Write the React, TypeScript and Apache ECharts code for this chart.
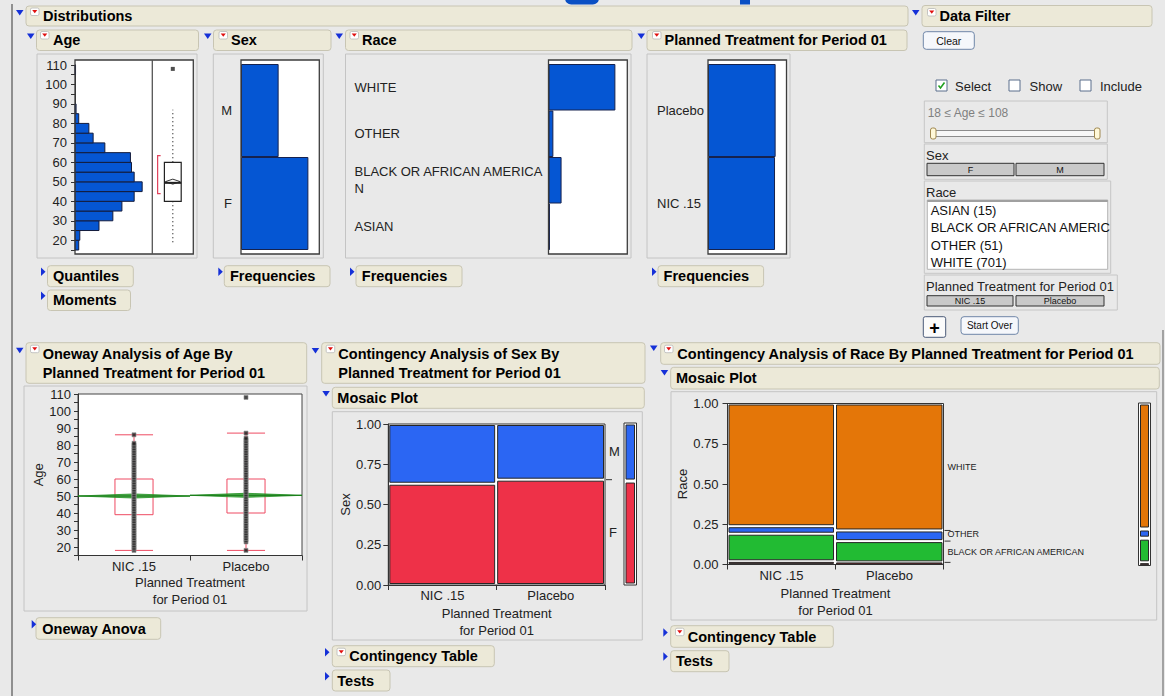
import React, { useEffect, useRef } from "react";
import * as echarts from "echarts";

// ---------------- DATA ----------------
const ageBinStart = [15, 20, 25, 30, 35, 40, 45, 50, 55, 60, 65, 70, 75, 80, 85, 105];
const ageBinCount = [7, 9, 45, 71, 88, 111, 126, 111, 106, 104, 56, 34, 26, 7, 2, 1];
const ageBinWidth = 5;
const ageBoxStats = [18, 40, 50, 60, 87]; // lower whisker, q1, median, q3, upper whisker
const ageMean = 50.1;
const ageOutliers = [108];
const ageShortestHalf = [44, 63.5];
const ageTicks = [20, 30, 40, 50, 60, 70, 80, 90, 100, 110];

const sexLevels = ["F", "M"];
const sexCounts = [580, 324];
const raceLevels = ["ASIAN", "BLACK OR AFRICAN AMERICAN", "OTHER", "WHITE"];
const raceCounts = [15, 137, 51, 701];
const trtLevels = ["NIC .15", "Placebo"];
const trtCounts = [450, 454];

const nicAges = [18, 19, 20, 21, 22, 23, 24, 25, 26, 27, 28, 29, 30, 31, 32, 33, 34, 35, 36, 37, 38, 39, 40, 41, 42, 43, 44, 45, 46, 47, 48, 49, 50, 51, 52, 53, 54, 55, 56, 57, 58, 59, 60, 61, 62, 63, 64, 65, 66, 67, 68, 69, 70, 71, 72, 73, 74, 75, 76, 77, 78, 79, 80, 81, 86];
const placeboAges = [18, 23, 24, 25, 26, 27, 28, 29, 30, 31, 32, 33, 34, 35, 36, 37, 38, 39, 40, 41, 42, 43, 44, 45, 46, 47, 48, 49, 50, 51, 52, 53, 54, 55, 56, 57, 58, 59, 60, 61, 62, 63, 64, 65, 66, 67, 68, 69, 70, 71, 72, 73, 74, 75, 76, 77, 78, 79, 80, 81, 82, 83, 84, 87, 108];
const trtBoxLow = [18, 18];
const trtBoxQ1 = [39, 40];
const trtBoxQ3 = [60, 60];
const trtBoxHigh = [86, 87];
const trtMean = [50.0, 50.4];
const trtMeanLo = [48.8, 49.2];
const trtMeanHi = [51.2, 51.6];

const sexByTrtF = [283, 297];
const sexByTrtM = [167, 157];
const raceByTrtAsian = [9, 6];
const raceByTrtBlack = [77, 60];
const raceByTrtOther = [21, 30];
const raceByTrtWhite = [343, 358];

const sexColors = ["#ee3148", "#2b66f3"];
const raceColors = ["#a8262a", "#22bb33", "#2b66f3", "#e47608"];

// ---------------- HELPERS ----------------
const FF = '"Liberation Sans", Arial, sans-serif';
const BAR = "#0556d3";

function mosaicCells(byLevel: number[][]) {
  const nCol = byLevel[0].length;
  const cells: number[][] = [];
  let x0 = 0;
  for (let c = 0; c < nCol; c++) {
    const tot = byLevel.reduce((s, l) => s + l[c], 0);
    let y0 = 0;
    byLevel.forEach((l, li) => {
      const y1 = y0 + l[c] / tot;
      cells.push([x0, x0 + tot, y0, y1, li]);
      y0 = y1;
    });
    x0 += tot;
  }
  return cells;
}
function marginalCells(counts: number[]) {
  const tot = counts.reduce((a, b) => a + b, 0);
  let y0 = 0;
  return counts.map((c, i) => {
    const y1 = y0 + c / tot;
    const r = [0, 1, y0, y1, i];
    y0 = y1;
    return r;
  });
}
function grandTotal(byLevel: number[][]) {
  return byLevel.reduce((s, l) => s + l.reduce((a, b) => a + b, 0), 0);
}
function mosaicLabels(byLevel: number[][], minShare: number, minGap: number) {
  const last = byLevel[0].length - 1;
  const tot = byLevel.reduce((s, l) => s + l[last], 0);
  const grand = grandTotal(byLevel);
  let y0 = 0;
  const items: number[][] = [];
  byLevel.forEach((l, li) => {
    const sh = l[last] / tot;
    if (sh >= minShare) items.push([grand, y0 + sh / 2, li]);
    y0 += sh;
  });
  for (let i = 1; i < items.length; i++) {
    if (items[i][1] < items[i - 1][1] + minGap) items[i][1] = items[i - 1][1] + minGap;
  }
  return items;
}
function mosaicBounds(byLevel: number[][]) {
  const last = byLevel[0].length - 1;
  const tot = byLevel.reduce((s, l) => s + l[last], 0);
  const grand = grandTotal(byLevel);
  let y0 = 0;
  const out: number[][] = [];
  byLevel.slice(0, -1).forEach((l) => {
    y0 += l[last] / tot;
    out.push([grand, y0]);
  });
  return out;
}

const cellRender = (colors: string[], inset: number) => (params: any, api: any) => {
  const p0 = api.coord([api.value(0), api.value(2)]);
  const p1 = api.coord([api.value(1), api.value(3)]);
  const w = p1[0] - p0[0] - 2 * inset;
  let h = p0[1] - p1[1] - 2 * inset;
  const yc = (p0[1] + p1[1]) / 2;
  if (h < 1) h = 1;
  return {
    type: "rect",
    shape: { x: p0[0] + inset, y: yc - h / 2, width: w, height: h },
    style: { fill: colors[api.value(4)], stroke: "#262626", lineWidth: 1 },
  };
};
const labelRender = (levels: string[], font: string) => (params: any, api: any) => {
  const p = api.coord([api.value(0), api.value(1)]);
  return {
    type: "text",
    x: p[0] + 4,
    y: p[1],
    style: { text: levels[api.value(2)], font, fill: "#222", textAlign: "left", textVerticalAlign: "middle" },
  };
};
const tickRender = (params: any, api: any) => {
  const p = api.coord([api.value(0), api.value(1)]);
  return { type: "line", shape: { x1: p[0] + 1, y1: p[1], x2: p[0] + 7, y2: p[1] }, style: { stroke: "#333", lineWidth: 1 } };
};

function buildOption() {
  const els: any[] = [];
  const rect = (x0: number, y0: number, x1: number, y1: number, style: any, z = 1, r = 0) =>
    els.push({ type: "rect", z, shape: { x: x0, y: y0, width: x1 - x0, height: y1 - y0, r }, style });
  const line = (x1: number, y1: number, x2: number, y2: number, style: any, z = 6) =>
    els.push({ type: "line", z, shape: { x1, y1, x2, y2 }, style });
  const text = (x: number, y: number, t: string, font: string, fill = "#111", align = "left", z = 6) =>
    els.push({ type: "text", z, x, y, style: { text: t, font, fill, textAlign: align, textVerticalAlign: "middle" } });
  const poly = (points: number[][], style: any, z = 6) => els.push({ type: "polygon", z, shape: { points }, style });

  const toggleDown = (x: number, y: number) => poly([[x, y], [x + 7.5, y], [x + 3.75, y + 5.5]], { fill: "#1530d8" });
  const toggleRight = (x: number, y: number) => poly([[x, y], [x + 4.5, y + 4.2], [x, y + 8.4]], { fill: "#1530d8" });
  const redIcon = (x: number, y: number) => {
    rect(x - 0.5, y - 0.5, x + 8, y + 7, { fill: "#ffffff", stroke: "#b8b8b8", lineWidth: 0.8 }, 5, 1.5);
    poly([[x + 1.2, y + 1.6], [x + 6.3, y + 1.6], [x + 3.75, y + 4.8]], { fill: "#e01010" }, 7);
  };
  const HF = `bold 14.5px ${FF}`;
  const header = (x0: number, y0: number, x1: number, y1: number, lines: string[], tx: number) => {
    rect(x0, y0, x1, y1, { fill: "#ece9d8", stroke: "#c8c5b3", lineWidth: 1 }, 1, 3);
    if (lines.length === 1) text(tx, (y0 + y1) / 2, lines[0], HF, "#000");
    else lines.forEach((l, i) => text(tx, y0 + 10.8 + i * 19.5, l, HF, "#000"));
  };
  const frame = (x0: number, y0: number, x1: number, y1: number) =>
    rect(x0, y0, x1, y1, { fill: "none", stroke: "#c4c4c4", lineWidth: 1 }, 0);

  // page decorations
  rect(565, -8, 599, 4.5, { fill: "#0a4fc4" }, 1, 8);
  rect(740, -2, 750, 4.5, { fill: "#0a4fc4" }, 1, 0);
  line(12, 4, 12, 696, { stroke: "#8f8f8f", lineWidth: 2 }, 1);
  line(1163, 330, 1163, 696, { stroke: "#8a8a8a", lineWidth: 1.5 }, 1);

  // top headers
  header(26, 6, 908, 26, ["Distributions"], 43); toggleDown(16, 10); redIcon(31, 8.5);
  header(36.5, 30, 198.5, 50.5, ["Age"], 53); toggleDown(27, 33.5); redIcon(41, 32);
  header(213.5, 30, 331, 50.5, ["Sex"], 231); toggleDown(204, 33.5); redIcon(219.5, 32);
  header(345.5, 30, 632, 50.5, ["Race"], 362); toggleDown(335.5, 33.5); redIcon(350.5, 32);
  header(647, 30, 907, 50.5, ["Planned Treatment for Period 01"], 664.5); toggleDown(637.5, 33.5); redIcon(653, 32);
  header(922, 5.5, 1152, 26.5, ["Data Filter"], 939.5); toggleDown(912, 10); redIcon(928, 9);

  // sub headers
  header(47.5, 265.7, 133.3, 286.7, ["Quantiles"], 53); toggleRight(41, 267.5);
  header(47.5, 290, 130.5, 310.5, ["Moments"], 53); toggleRight(41, 291.5);
  header(224.3, 265.7, 330, 286.7, ["Frequencies"], 230); toggleRight(218.3, 267.5);
  header(356, 265.7, 462, 286.7, ["Frequencies"], 361.8); toggleRight(350, 267.5);
  header(658, 265.7, 763.6, 286.7, ["Frequencies"], 663.6); toggleRight(652, 267.5);

  // bottom headers
  header(26, 342.7, 306.7, 383.3, ["Oneway Analysis of Age By", "Planned Treatment for Period 01"], 42.7); toggleDown(16, 347.7); redIcon(31, 345.7);
  header(36, 617.7, 160.7, 639.3, ["Oneway Anova"], 42.3); toggleRight(31.7, 620);
  header(321.7, 342.7, 645, 383.3, ["Contingency Analysis of Sex By", "Planned Treatment for Period 01"], 338.3); toggleDown(311.7, 348); redIcon(326.7, 345.7);
  header(332.3, 387.3, 644.3, 408.3, ["Mosaic Plot"], 337.3); toggleDown(322.3, 391);
  header(332.3, 645.7, 494.3, 666.7, ["Contingency Table"], 349.3); toggleRight(325, 648); redIcon(337.5, 648.7);
  header(332.3, 670, 390, 691, ["Tests"], 337.3); toggleRight(325, 672);
  header(660.7, 342.7, 1160, 364.3, ["Contingency Analysis of Race By Planned Treatment for Period 01"], 677.3); toggleDown(650, 345.5); redIcon(665, 345.7);
  header(670.7, 367.3, 1159.3, 389, ["Mosaic Plot"], 676); toggleDown(660.7, 370);
  header(670.7, 625.7, 833.3, 647.3, ["Contingency Table"], 687.7); toggleRight(663.3, 628.3); redIcon(676, 628.7);
  header(670.7, 650.7, 729, 671.7, ["Tests"], 676); toggleRight(663.3, 652.3);

  // panel frames
  frame(37, 54, 197, 258);
  frame(213.3, 54, 323.3, 258);
  frame(345.5, 54, 631, 258);
  frame(647, 54, 790, 258);
  frame(24, 386, 307, 611);
  frame(332.3, 411.7, 642.3, 640);
  frame(671, 391.7, 1156.7, 620);

  // distribution plot areas (white bg + frame on top)
  const plotBox = (x0: number, y0: number, x1: number, y1: number) => {
    rect(x0, y0, x1, y1, { fill: "#ffffff" }, 0);
    rect(x0, y0, x1, y1, { fill: "none", stroke: "#3c3c3c", lineWidth: 1.3 }, 10);
  };
  plotBox(75, 60, 193.3, 254);
  line(152.3, 60, 152.3, 254, { stroke: "#555", lineWidth: 1.3 }, 10);
  plotBox(241, 60, 319.3, 254);
  plotBox(548.5, 60, 627.3, 254);
  plotBox(708, 60, 786.5, 254);

  // ---- Data filter ----
  const F13 = `13px ${FF}`;
  rect(923.3, 31.7, 974.3, 49.3, { fill: "#f5f7fb", stroke: "#6f86a8", lineWidth: 1 }, 1, 3);
  text(948.8, 40.7, "Clear", `10.5px ${FF}`, "#111", "center");
  const cb = (x: number, y: number, checked: boolean) => {
    rect(x, y, x + 11, y + 11, { fill: "#ffffff", stroke: "#5a6e8c", lineWidth: 1 }, 2);
    if (checked) els.push({ type: "polyline", z: 6, shape: { points: [[x + 2.5, y + 5.5], [x + 4.5, y + 8], [x + 8.5, y + 2.5]] }, style: { stroke: "#21a121", lineWidth: 1.6, fill: "none" } });
  };
  cb(936, 80, true); text(955, 86.3, "Select", F13, "#222");
  cb(1009, 80, false); text(1029.5, 86.3, "Show", F13, "#222");
  cb(1080, 80, false); text(1100, 86.3, "Include", F13, "#222");

  const box = (x0: number, y0: number, x1: number, y1: number) => rect(x0, y0, x1, y1, { fill: "none", stroke: "#c6c6c6", lineWidth: 1 }, 1);
  box(924.3, 101, 1107.3, 142.7);
  text(927.7, 112.5, `${ageBinStart[0] + 3} ≤ Age ≤ ${ageOutliers[0]}`, `12px ${FF}`, "#808080");
  rect(932, 130.5, 1098, 136.5, { fill: "#f7f7f7", stroke: "#8c8c8c", lineWidth: 1 }, 2);
  rect(930.5, 128, 936, 139, { fill: "#fff8d8", stroke: "#a08850", lineWidth: 1 }, 3, 2);
  rect(1094.5, 128, 1100, 139, { fill: "#fff8d8", stroke: "#a08850", lineWidth: 1 }, 3, 2);

  const btn = (x0: number, y0: number, x1: number, y1: number, t: string) => {
    rect(x0, y0, x1, y1, { fill: "#c9c9c9", stroke: "#333", lineWidth: 1 }, 2);
    text((x0 + x1) / 2, (y0 + y1) / 2 + 0.5, t, `9px ${FF}`, "#111", "center");
  };
  box(924.3, 144, 1107.3, 179.3);
  text(926, 155.7, "Sex", F13, "#222");
  btn(927, 163.3, 1014, 175.7, sexLevels[0]);
  btn(1016, 163.3, 1104, 175.7, sexLevels[1]);

  box(924.3, 181, 1110.7, 273.3);
  text(926, 192.3, "Race", F13, "#222");
  rect(927.3, 200, 1107.7, 269.3, { fill: "#ffffff", stroke: "#b4b4b4", lineWidth: 1 }, 2);
  line(927.3, 201, 1107.7, 201, { stroke: "#a0a0a0", lineWidth: 2 }, 3);
  raceLevels.forEach((lv, i) => {
    const s = `${lv} (${raceCounts[i]})`;
    text(930.7, 210.7 + i * 17.2, s.length > 24 ? s.slice(0, 23) : s, F13, "#111");
  });

  box(924.3, 275, 1117.3, 310);
  text(926, 286, "Planned Treatment for Period 01", F13, "#222");
  btn(927, 295.7, 1013, 306, trtLevels[0]);
  btn(1016, 295.7, 1104, 306, trtLevels[1]);

  rect(923.3, 316.7, 945.7, 337.3, { fill: "#fbfbfb", stroke: "#4a5a78", lineWidth: 1 }, 1, 2);
  text(934.5, 327.5, "+", `bold 18px ${FF}`, "#000", "center");
  rect(961, 316.7, 1018.3, 334.3, { fill: "#f5f7fb", stroke: "#6f86a8", lineWidth: 1 }, 1, 3);
  text(989.7, 325.8, "Start Over", `10px ${FF}`, "#111", "center");

  // ---------------- axes ----------------
  const lab = { color: "#222", fontFamily: FF, fontSize: 13 };
  const hiddenX = (gridIndex: number, max: number, min = 0) => ({ type: "value", gridIndex, min, max, show: false });
  const ageY = (gridIndex: number, margin: number, extra: any = {}) => ({
    type: "value", gridIndex, min: 15, max: 110, interval: 5,
    axisLine: { show: true, lineStyle: { color: "#333" } },
    axisTick: { show: true, length: 4, lineStyle: { color: "#333" } },
    splitLine: { show: false },
    axisLabel: { ...lab, margin, formatter: (v: number) => (ageTicks.indexOf(v) >= 0 ? String(v) : "") },
    ...extra,
  });
  const catY = (gridIndex: number, data: string[], align: string, margin: number) => ({
    type: "category", gridIndex, data,
    axisLine: { show: false }, axisTick: { show: false },
    axisLabel: {
      ...lab, align, margin, lineHeight: 17,
      formatter: (v: string) => (v.length > 24 ? v.slice(0, 24) + "\n" + v.slice(24) : v),
    },
  });
  const fracY = (gridIndex: number, name: string, margin: number, nameGap: number) => ({
    type: "value", gridIndex, min: 0, max: 1, interval: 0.25,
    name, nameLocation: "middle", nameGap, nameRotate: 90,
    nameTextStyle: { ...lab },
    axisLine: { show: true, lineStyle: { color: "#333" } },
    axisTick: { show: true, length: 5, lineStyle: { color: "#333" } },
    splitLine: { show: false },
    axisLabel: { ...lab, margin, formatter: (v: number) => v.toFixed(2) },
  });
  const catX = (gridIndex: number, margin: number, nameGap: number) => ({
    type: "category", gridIndex, data: trtLevels, position: "bottom",
    name: "Planned Treatment\nfor Period 01", nameLocation: "middle", nameGap,
    nameTextStyle: { ...lab, lineHeight: 17 },
    axisLine: { show: true, lineStyle: { color: "#333" } },
    axisTick: { show: true, length: 5, alignWithLabel: false, lineStyle: { color: "#333" } },
    axisLabel: { ...lab, margin },
    splitLine: { show: false },
  });

  const sexByLevel = [sexByTrtF, sexByTrtM];
  const raceByLevel = [raceByTrtAsian, raceByTrtBlack, raceByTrtOther, raceByTrtWhite];
  const sexGrand = grandTotal(sexByLevel);
  const raceGrand = grandTotal(raceByLevel);

  const g = (left: number, top: number, width: number, height: number, extra: any = {}) => ({
    left, top, width, height, containLabel: false, outerBoundsMode: "none", show: false, ...extra,
  });
  const grids = [
    g(75, 65, 77.3, 185),
    g(152.3, 65, 41, 185),
    g(241, 64, 78.3, 186),
    g(548.5, 64, 78.8, 186),
    g(708, 64, 78.5, 186),
    g(78, 394, 224, 161.5, { show: true, backgroundColor: "#ffffff", borderColor: "#444", borderWidth: 1 }),
    g(388.3, 424, 216.7, 161, { show: true, backgroundColor: "#ffffff", borderColor: "#333", borderWidth: 1 }),
    g(624, 423, 12.5, 162, { show: true, backgroundColor: "#ffffff", borderColor: "#333", borderWidth: 1 }),
    g(727.5, 403.5, 216, 161, { show: true, backgroundColor: "#ffffff", borderColor: "#333", borderWidth: 1 }),
    g(1138.5, 403, 12, 162.5, { show: true, backgroundColor: "#ffffff", borderColor: "#333", borderWidth: 1 }),
  ];

  const xAxis = [
    hiddenX(0, 145),
    hiddenX(1, 1),
    hiddenX(2, 674),
    hiddenX(3, 826),
    hiddenX(4, 527),
    catX(5, 4, 18),
    { ...hiddenX(6, sexGrand), position: "top" },
    catX(6, 4, 19.5),
    hiddenX(7, 1),
    { ...hiddenX(8, raceGrand), position: "top" },
    catX(8, 4.5, 20.5),
    hiddenX(9, 1),
  ];
  const yAxis = [
    ageY(0, 8),
    { type: "value", gridIndex: 1, min: 15, max: 110, show: false },
    catY(2, sexLevels, "right", 9),
    catY(3, raceLevels, "left", 194),
    catY(4, trtLevels, "left", 51),
    ageY(5, 7, { name: "Age", nameLocation: "middle", nameGap: 32, nameRotate: 90, nameTextStyle: { ...lab } }),
    fracY(6, "Sex", 7, 35),
    { type: "value", gridIndex: 7, min: 0, max: 1, show: false },
    fracY(8, "Race", 9, 36),
    { type: "value", gridIndex: 9, min: 0, max: 1, show: false },
  ];

  const barSeries = (i: number, data: number[]) => ({
    type: "bar", xAxisIndex: i, yAxisIndex: i, data, barCategoryGap: "0%",
    itemStyle: { color: BAR, borderColor: "#16224e", borderWidth: 1 },
  });

  const series: any[] = [
    {
      type: "custom", xAxisIndex: 0, yAxisIndex: 0,
      data: ageBinStart.map((s, i) => [s, s + ageBinWidth, ageBinCount[i]]),
      encode: { x: 2, y: [0, 1] },
      renderItem: (params: any, api: any) => {
        const a = api.coord([0, api.value(1)]);
        const b = api.coord([api.value(2), api.value(0)]);
        return { type: "rect", shape: { x: a[0], y: a[1], width: b[0] - a[0], height: b[1] - a[1] }, style: { fill: BAR, stroke: "#141c3c", lineWidth: 1 } };
      },
    },
    {
      type: "custom", xAxisIndex: 1, yAxisIndex: 1,
      data: [[0.5, ...ageBoxStats, ageMean, ...ageShortestHalf]],
      encode: { x: 0, y: [1, 5] },
      renderItem: (params: any, api: any) => {
        const cx = api.coord([0.5, 0])[0];
        const y = (v: number) => api.coord([0.5, v])[1];
        const [lo, q1, med, q3, hi, mean, sh0, sh1] = [1, 2, 3, 4, 5, 6, 7, 8].map((k) => api.value(k));
        const half = api.size([0.41, 0])[0] / 2;
        const bx = api.coord([0.13, 0])[0];
        const dash = { stroke: "#222", lineWidth: 1.2, lineDash: [1, 3] };
        return {
          type: "group",
          children: [
            { type: "line", shape: { x1: cx, y1: y(q3), x2: cx, y2: y(hi) }, style: dash },
            { type: "line", shape: { x1: cx, y1: y(q1), x2: cx, y2: y(lo) }, style: dash },
            { type: "rect", shape: { x: cx - half, y: y(q3), width: half * 2, height: y(q1) - y(q3) }, style: { fill: "#fff", stroke: "#222", lineWidth: 1.2 } },
            { type: "polygon", shape: { points: [[cx - half + 1, y(mean)], [cx, y(mean) - 2.5], [cx + half - 1, y(mean)], [cx, y(mean) + 2.5]] }, style: { fill: "#fff", stroke: "#333", lineWidth: 1 } },
            { type: "line", shape: { x1: cx - half, y1: y(med) + 1, x2: cx + half, y2: y(med) + 1 }, style: { stroke: "#222", lineWidth: 2 } },
            { type: "polyline", shape: { points: [[bx + 3, y(sh1)], [bx, y(sh1)], [bx, y(sh0)], [bx + 3, y(sh0)]] }, style: { fill: "none", stroke: "#e0405a", lineWidth: 1.2 } },
          ],
        };
      },
    },
    {
      type: "scatter", xAxisIndex: 1, yAxisIndex: 1, symbol: "rect", symbolSize: 4,
      data: ageOutliers.map((v) => [0.5, v]), itemStyle: { color: "#222" },
    },
    barSeries(2, sexCounts),
    barSeries(3, raceCounts),
    barSeries(4, trtCounts),
    // oneway boxes
    {
      type: "custom", xAxisIndex: 5, yAxisIndex: 5,
      data: trtLevels.map((_, i) => [i, trtBoxLow[i], trtBoxQ1[i], trtBoxQ3[i], trtBoxHigh[i]]),
      encode: { x: 0, y: [1, 4] },
      renderItem: (params: any, api: any) => {
        const i = api.value(0);
        const cx = api.coord([i, 0])[0];
        const band = api.size([1, 0])[0];
        const w = band * 0.34;
        const y = (v: number) => api.coord([i, v])[1];
        const st = { stroke: "#ee4a62", lineWidth: 1, fill: "none" };
        return {
          type: "group",
          children: [
            { type: "rect", shape: { x: cx - w / 2, y: y(api.value(3)), width: w, height: y(api.value(2)) - y(api.value(3)) }, style: st },
            { type: "line", shape: { x1: cx, y1: y(api.value(3)), x2: cx, y2: y(api.value(4)) }, style: st },
            { type: "line", shape: { x1: cx, y1: y(api.value(2)), x2: cx, y2: y(api.value(1)) }, style: st },
            { type: "line", shape: { x1: cx - w / 2, y1: y(api.value(4)), x2: cx + w / 2, y2: y(api.value(4)) }, style: st },
            { type: "line", shape: { x1: cx - w / 2, y1: y(api.value(1)), x2: cx + w / 2, y2: y(api.value(1)) }, style: st },
          ],
        };
      },
    },
    // means diamonds
    {
      type: "custom", xAxisIndex: 5, yAxisIndex: 5,
      data: trtLevels.map((_, i) => [i, trtMean[i], trtMeanLo[i], trtMeanHi[i]]),
      encode: { x: 0, y: [1, 3] },
      renderItem: (params: any, api: any) => {
        const i = api.value(0);
        const cx = api.coord([i, 0])[0];
        const band = api.size([1, 0])[0];
        const y = (v: number) => api.coord([i, v])[1];
        const ym = y(api.value(1));
        return {
          type: "group",
          children: [
            { type: "polygon", shape: { points: [[cx - band / 2, ym], [cx, y(api.value(3))], [cx + band / 2, ym], [cx, y(api.value(2))]] }, style: { fill: "rgba(34,150,34,0.8)", stroke: "#1f8f1f", lineWidth: 0.8 } },
            { type: "line", shape: { x1: cx - band / 2, y1: ym, x2: cx + band / 2, y2: ym }, style: { stroke: "#177a17", lineWidth: 1 } },
          ],
        };
      },
    },
    ...[nicAges, placeboAges].map((ages, i) => ({
      type: "scatter", xAxisIndex: 5, yAxisIndex: 5, symbol: "rect", symbolSize: 4,
      data: ages.map((a) => [i, a]),
      itemStyle: { color: "#1c1c1c", borderColor: "#8e8e8e", borderWidth: 0.8 },
    })),
    // sex mosaic
    { type: "custom", xAxisIndex: 6, yAxisIndex: 6, data: mosaicCells(sexByLevel), encode: { x: [0, 1], y: [2, 3] }, renderItem: cellRender(sexColors, 1.5) },
    { type: "custom", xAxisIndex: 6, yAxisIndex: 6, data: mosaicLabels(sexByLevel, 0.02, 0.1), encode: { x: 0, y: 1 }, clip: false, renderItem: labelRender(sexLevels, `13px ${FF}`) },
    { type: "custom", xAxisIndex: 6, yAxisIndex: 6, data: mosaicBounds(sexByLevel), encode: { x: 0, y: 1 }, clip: false, renderItem: tickRender },
    { type: "custom", xAxisIndex: 8, yAxisIndex: 7, data: marginalCells(sexCounts), encode: { x: [0, 1], y: [2, 3] }, renderItem: cellRender(sexColors, 2) },
    // race mosaic
    { type: "custom", xAxisIndex: 9, yAxisIndex: 8, data: mosaicCells(raceByLevel), encode: { x: [0, 1], y: [2, 3] }, renderItem: cellRender(raceColors, 1.5) },
    { type: "custom", xAxisIndex: 9, yAxisIndex: 8, data: mosaicLabels(raceByLevel, 0.02, 0.11), encode: { x: 0, y: 1 }, clip: false, renderItem: labelRender(raceLevels, `9px ${FF}`) },
    { type: "custom", xAxisIndex: 9, yAxisIndex: 8, data: mosaicBounds(raceByLevel), encode: { x: 0, y: 1 }, clip: false, renderItem: tickRender },
    { type: "custom", xAxisIndex: 11, yAxisIndex: 9, data: marginalCells(raceCounts), encode: { x: [0, 1], y: [2, 3] }, renderItem: cellRender(raceColors, 2) },
  ];

  return {
    animation: false,
    backgroundColor: "#e9e9e9",
    textStyle: { fontFamily: FF },
    grid: grids,
    xAxis,
    yAxis,
    series,
    graphic: { elements: els },
  };
}

export default function App() {
  const ref = useRef<HTMLDivElement>(null);
  useEffect(() => {
    const chart = echarts.init(ref.current!, null, { renderer: "svg" });
    chart.setOption(buildOption() as any);
    return () => chart.dispose();
  }, []);
  return <div ref={ref} style={{ position: "absolute", left: 0, top: 0, width: 1165, height: 696 }} />;
}
